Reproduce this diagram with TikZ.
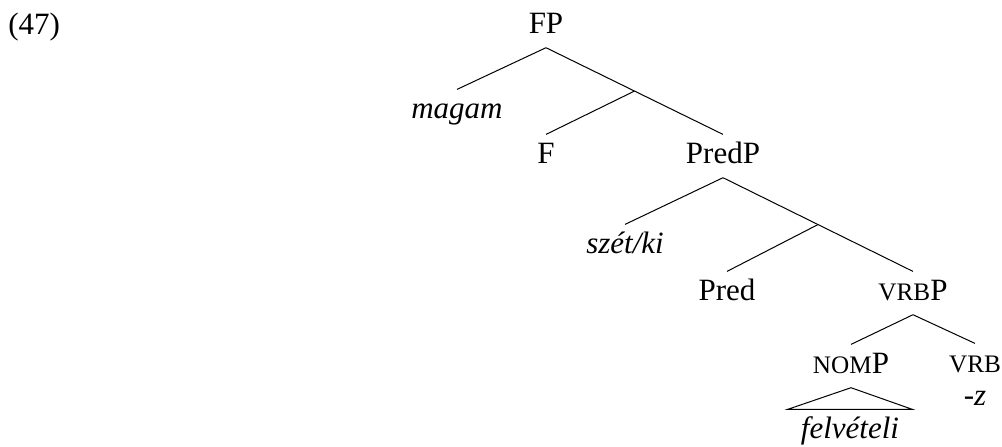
\documentclass[tikz,border=0pt]{standalone}
\usepackage{fontspec}
\setmainfont{Liberation Serif}
\usetikzlibrary{calc}
\newcommand\smc[1]{{\fontsize{12.6}{14}\selectfont #1}}
\begin{document}
\begin{tikzpicture}[x=0.5pt,y=-0.5pt,
  lab/.style={anchor=base, inner sep=3.25pt, text height=10.85pt, text depth=3.9pt, font=\fontsize{15.5}{18}\selectfont},
  branch/.style={line width=0.5pt}]
\useasboundingbox (0,0) rectangle (1002,446);
\node[lab, anchor=base west, inner sep=0pt] (ex) at (8,34) {(47)};
\node[lab] (FP) at (546,33) {FP};
\node[lab] (magam) at (457,118) {\itshape magam};
\node[lab] (F) at (546,163) {F};
\node[lab] (PredP) at (723,163) {PredP};
\node[lab] (szetki) at (625,253) {\itshape szét/ki};
\node[lab] (Pred) at (727,300) {Pred};
\node[lab] (VRBP) at (913,300) {\smc{VRB}P};
\node[lab] (NOMP) at (851,373) {\smc{NOM}P};
\node[lab] (VRB) at (975,372) {\smc{VRB}};
\node[lab, inner xsep=6.5pt] (felv) at (850,438) {\itshape felvételi};
\node[lab] (z) at (975,405) {\itshape -z};
% FP
\draw[branch] (FP.south) -- (magam.north);
\draw[branch] (FP.south) -- coordinate[pos=0.5] (Fbar) (PredP.north);
\draw[branch] (Fbar) -- (F.north);
% PredP
\draw[branch] (PredP.south) -- (szetki.north);
\draw[branch] (PredP.south) -- coordinate[pos=0.5] (Predbar) (VRBP.north);
\draw[branch] (Predbar) -- (Pred.north);
% VRBP
\draw[branch] (VRBP.south) -- (NOMP.north);
\draw[branch] (VRBP.south) -- (VRB.north);
% triangle
\draw[branch] (NOMP.south) -- (felv.north west) -- (felv.north east) -- cycle;
\end{tikzpicture}
\end{document}
